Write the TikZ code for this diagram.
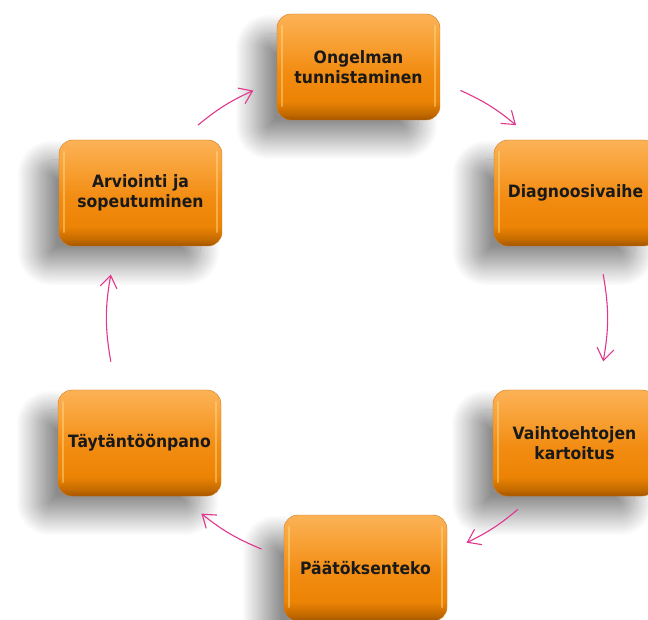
\documentclass[tikz,border=0pt]{standalone}
\usepackage{fontspec}
\setmainfont{DejaVu Sans}[FakeStretch=0.92]
\usetikzlibrary{arrows.meta}
\usetikzlibrary{shadows.blur}

\definecolor{otop}{HTML}{FCB257}
\definecolor{otopb}{HTML}{F8A136}
\definecolor{omid}{HTML}{F28C12}
\definecolor{olow}{HTML}{EC8304}
\definecolor{odark}{HTML}{C46A00}
\definecolor{obot}{HTML}{A35500}
\definecolor{oedge}{HTML}{D07A1A}
\definecolor{oshine}{HTML}{FFE08A}
\definecolor{flowpink}{HTML}{E0368E}

\pgfdeclareverticalshading{glossy}{100bp}{color(0bp)=(obot); color(25bp)=(obot); color(28bp)=(odark); color(34bp)=(olow); color(48bp)=(omid); color(62bp)=(otopb); color(75bp)=(otop); color(100bp)=(otop)}

\tikzset{
  stepbox/.style={rounded corners=14pt, minimum width=163pt, minimum height=106pt,
    shade, shading=glossy, draw=oedge, line width=0.4pt, align=center,
    font=\bfseries\fontsize{17}{20}\selectfont, text=black!90,
    blur shadow={shadow xshift=-22pt, shadow yshift=-20pt, shadow blur radius=20pt,
      shadow blur steps=24, shadow opacity=45},
    path picture={
      \draw[oshine, line width=2.5pt, line cap=round, opacity=0.45]
        ([shift={(5,-12)}]path picture bounding box.north west) -- ([shift={(5,14)}]path picture bounding box.south west);
      \draw[oshine, line width=2.5pt, line cap=round, opacity=0.45]
        ([shift={(-5,-12)}]path picture bounding box.north east) -- ([shift={(-5,14)}]path picture bounding box.south east);
    }},
  flow/.style={draw=flowpink, line width=1.1pt, line cap=round, -{Straight Barb[length=12pt,width=17pt]}},
}

\begin{document}
\begin{tikzpicture}[x=1pt,y=1pt]
\useasboundingbox (0,0) rectangle (648,619);
\coordinate (ctr) at (357,301);
% the six phases
\node[stepbox] (tun) at (358.5,552) {Ongelman\\tunnistaminen};
\node[stepbox] (diag) at (575.5,426) {Diagnoosivaihe};
\node[stepbox] (vaiht) at (574.5,176) {Vaihtoehtojen\\kartoitus};
\node[stepbox] (paat) at (365.5,51) {Päätöksenteko};
\node[stepbox] (tayt) at (139.5,176) {Täytäntöönpano};
\node[stepbox] (arv) at (140.5,426) {Arviointi ja\\sopeutuminen};
% arrow ends on the circle
\coordinate (a1s) at ([shift={(129.5:250)}]ctr);
\coordinate (a1e) at ([shift={(114.5:250)}]ctr);
\coordinate (a2s) at ([shift={(65.5:250)}]ctr);
\coordinate (a2e) at ([shift={(50.5:250)}]ctr);
\coordinate (a3s) at ([shift={(10:250)}]ctr);
\coordinate (a3e) at ([shift={(-10:250)}]ctr);
\coordinate (a4s) at ([shift={(-50:250)}]ctr);
\coordinate (a4e) at ([shift={(-64:250)}]ctr);
\coordinate (a5s) at ([shift={(-112.5:250)}]ctr);
\coordinate (a5e) at ([shift={(-128.5:250)}]ctr);
\coordinate (a6s) at ([shift={(190:250)}]ctr);
\coordinate (a6e) at ([shift={(170:250)}]ctr);
\draw[flow] (a1s) to[bend left=7.5] (a1e);
\draw[flow] (a2s) to[bend left=7.5] (a2e);
\draw[flow] (a3s) to[bend left=10] (a3e);
\draw[flow] (a4s) to[bend left=7] (a4e);
\draw[flow] (a5s) to[bend left=8] (a5e);
\draw[flow] (a6s) to[bend left=10] (a6e);
\end{tikzpicture}
\end{document}
